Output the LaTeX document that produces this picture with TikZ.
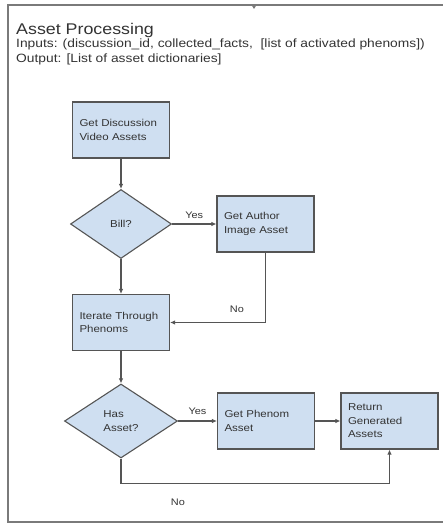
\documentclass[tikz,border=0pt]{standalone}
\usepackage{fontspec}
\setmainfont{Liberation Sans}[FakeStretch=1.15]
\usetikzlibrary{shapes.geometric,arrows.meta}
\definecolor{boxfill}{HTML}{CFDFF1}
\definecolor{boxline}{HTML}{555555}
\definecolor{framegray}{HTML}{7A7A7A}
\definecolor{textgray}{HTML}{333333}
\tikzset{
  procbox/.style={draw=boxline, fill=boxfill, line width=1.1pt, minimum width=97pt, minimum height=56pt,
    text width=83pt, inner xsep=7pt, inner ysep=0pt, align=left, text=textgray, font=\fontsize{10}{13.5}\selectfont},
  decision/.style={diamond, draw=boxline, fill=boxfill, line width=1.1pt, inner sep=0pt, align=left,
    text=textgray, font=\fontsize{10}{13.5}\selectfont},
  flow/.style={draw=boxline, line width=1.1pt, -{Latex[length=5pt,width=4.5pt]}},
  flowlabel/.style={text=textgray, font=\fontsize{9.5}{11}\selectfont},
  headline/.style={anchor=base west, inner sep=0pt, text=textgray}
}
\begin{document}
\begin{tikzpicture}[x=1pt,y=-1pt]
  \useasboundingbox (0,0) rectangle (443,524);
  % frame
  \draw[framegray, line width=1.6pt] (443,5) -- (8,5) -- (8,522) -- (443,522);
  \fill[framegray] (251.5,5) -- (256.5,5) -- (254,9) -- cycle;
  % header
  \node[headline, font=\fontsize{15.5}{18}\selectfont] (title) at (16,35) {Asset Processing};
  \node[headline, font=\fontsize{12}{14}\selectfont] (inputs) at (16,48)
    {Inputs: (discussion\_id, collected\_facts,\ \ [list of activated phenoms])};
  \node[headline, font=\fontsize{12}{14}\selectfont] (output) at (16,63) {Output: [List of asset dictionaries]};
  % steps
  \node[procbox] (video) at (121,130) {Get Discussion\\Video Assets};
  \node[decision, minimum width=101pt, minimum height=69pt] (bill) at (121,224) {Bill?};
  \node[procbox] (author) at (265.5,224) {Get Author\\Image Asset};
  \node[procbox] (iterate) at (121,322.5) {Iterate Through\\Phenoms};
  \node[decision, minimum width=113pt, minimum height=74pt] (hasasset) at (121,421) {Has\\Asset?};
  \node[procbox] (phenom) at (266,421) {Get Phenom\\Asset};
  \node[procbox] (result) at (389.5,421) {Return\\Generated\\Assets};
  % connectors
  \draw[flow] (video) -- (bill);
  \draw[flow] (bill) -- node[flowlabel, above=2pt]{Yes} (author);
  \draw[flow] (bill) -- (iterate);
  \draw[flow] (author.south) |- node[flowlabel, pos=0.65, above=6pt]{No} (iterate.east);
  \draw[flow] (iterate) -- (hasasset);
  \draw[flow] (hasasset) -- node[flowlabel, above=3pt]{Yes} (phenom);
  \draw[flow] (phenom) -- (result);
  \draw[flow] (hasasset.south) -- ++(0,25) -| node[flowlabel, pos=0.106, below=12pt]{No} (result.south);
\end{tikzpicture}
\end{document}
